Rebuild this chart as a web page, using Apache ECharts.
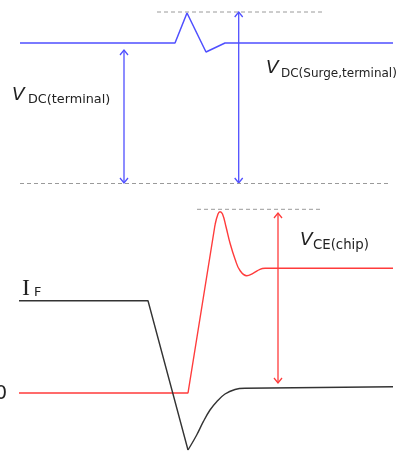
<!DOCTYPE html>
<html><head><meta charset="utf-8">
<script src="https://cdn.jsdelivr.net/npm/echarts@6/dist/echarts.min.js"></script>
<style>html,body{margin:0;padding:0;background:#fff}#c{width:408px;height:452px}</style>
</head><body><div id="c"></div>
<script>
// Schematic: time axis (t) and signal level (v), inverted y
const tBlue = [20, 175, 187, 206, 225, 393];
const vBlue = [43, 43, 13, 52, 43, 43];

const tRedLin = [19, 188, 215];
const vRedLin = [393, 393, 225];
const tRedCurve = [215, 218, 220, 222.5, 226, 230, 235, 240, 246.7, 253, 260, 265];
const vRedCurve = [225, 214, 211.7, 214, 226.7, 243, 259, 270.5, 275.7, 273.3, 269.3, 268.3];
const tRedFlat = [265, 393];
const vRedFlat = [268.3, 268.3];

const tBlkLin = [19, 148, 188];
const vBlkLin = [300.7, 300.7, 450];
const tBlkCurve = [188, 196.7, 203.3, 210, 216.7, 225, 235, 245];
const vBlkCurve = [450, 435, 421.7, 410, 401.7, 394, 389.5, 388.3];
const tBlkFlat = [245, 393];
const vBlkFlat = [388.3, 386.7];

const tRefBlueTop = [157, 323];   const vRefBlueTop = [12, 12];
const tRefBlueBot = [20, 391];    const vRefBlueBot = [183.5, 183.5];
const tRefRedTop = [197, 323];    const vRefRedTop = [209.3, 209.3];

const arrowT = [124, 238.7, 278];
const arrowFrom = [50, 12, 213];
const arrowTo = [183, 183, 383];

const BLUE = '#4f4fff', RED = '#ff3b3b', BLACK = '#333333', GREY = '#9a9a9a';

const zip = (a, b) => a.map((x, i) => [x, b[i]]);

function lineSeries(t, v, color, width, smooth, dashed) {
  return {
    type: 'line', data: zip(t, v), showSymbol: false, symbol: 'none', smooth: smooth || false,
    silent: true, animation: false,
    lineStyle: { color: color, width: width, type: dashed ? [4, 3] : 'solid' }
  };
}

const arrowColors = [BLUE, BLUE, RED];
const arrowSeries = {
  type: 'custom', animation: false, silent: true,
  data: arrowT.map((t, i) => [t, arrowFrom[i], arrowTo[i], i]),
  encode: { x: 0, y: [1, 2] },
  renderItem: function (params, api) {
    const a = api.coord([api.value(0), api.value(1)]);
    const b = api.coord([api.value(0), api.value(2)]);
    const c = arrowColors[api.value(3)];
    const hw = 4, hh = 5;
    const st = { stroke: c, lineWidth: 1.3, fill: null };
    return {
      type: 'group', children: [
        { type: 'line', shape: { x1: a[0], y1: a[1], x2: b[0], y2: b[1] }, style: st },
        { type: 'polyline', shape: { points: [[a[0] - hw, a[1] + hh], [a[0], a[1]], [a[0] + hw, a[1] + hh]] }, style: st },
        { type: 'polyline', shape: { points: [[b[0] - hw, b[1] - hh], [b[0], b[1]], [b[0] + hw, b[1] - hh]] }, style: st }
      ]
    };
  }
};

const sans = 'DejaVu Sans';
function txt(x, y, text, size, color, opts) {
  opts = opts || {};
  return {
    type: 'text', x: x, y: y, silent: true,
    style: {
      text: text, fill: color || '#222',
      font: (opts.italic ? 'italic ' : '') + size + 'px ' + (opts.family || sans),
      textAlign: opts.align || 'left', textVerticalAlign: 'middle'
    }
  };
}

const chart = echarts.init(document.getElementById('c'), null, { renderer: 'canvas' });
chart.setOption({
  animation: false,
  grid: { left: 0, right: 0, top: 0, bottom: 0 },
  xAxis: { type: 'value', min: 0, max: 408, show: false },
  yAxis: { type: 'value', min: 0, max: 452, inverse: true, show: false },
  series: [
    lineSeries(tRefBlueTop, vRefBlueTop, GREY, 1, false, true),
    lineSeries(tRefBlueBot, vRefBlueBot, GREY, 1, false, true),
    lineSeries(tRefRedTop, vRefRedTop, GREY, 1, false, true),
    lineSeries(tBlue, vBlue, BLUE, 1.5),
    lineSeries(tRedLin, vRedLin, RED, 1.4),
    lineSeries(tRedCurve, vRedCurve, RED, 1.4, 0.45),
    lineSeries(tRedFlat, vRedFlat, RED, 1.4),
    lineSeries(tBlkLin, vBlkLin, BLACK, 1.4),
    lineSeries(tBlkCurve, vBlkCurve, BLACK, 1.4, 0.4),
    lineSeries(tBlkFlat, vBlkFlat, BLACK, 1.4),
    arrowSeries
  ],
  graphic: [
    txt(12, 95, 'V', 18.5, '#222', { italic: true }),
    txt(28, 100, 'DC(terminal)', 12.8, '#222'),
    txt(266, 68, 'V', 18.5, '#222', { italic: true }),
    txt(281, 74, 'DC(Surge,terminal)', 12, '#222'),
    txt(300, 240, 'V', 18.5, '#222', { italic: true }),
    txt(313, 246, 'CE(chip)', 13.3, '#222'),
    txt(22, 289, 'I', 24, '#222', { family: 'Liberation Serif' }),
    txt(34, 293, 'F', 12.8, '#222'),
    txt(7, 394, '0', 19, '#222', { align: 'right' })
  ]
});
</script></body></html>
